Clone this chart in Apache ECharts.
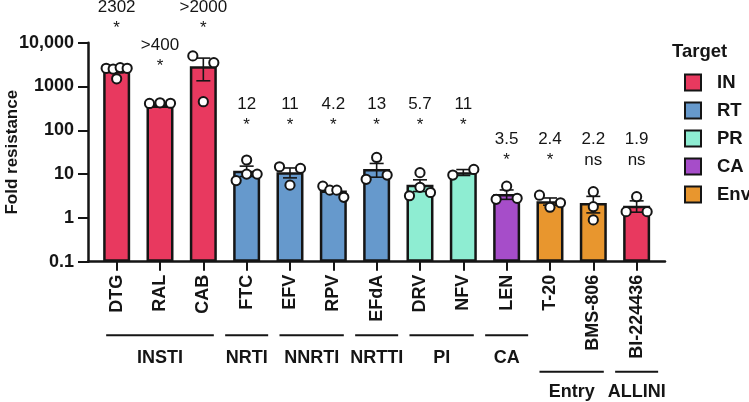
<!DOCTYPE html>
<html><head><meta charset="utf-8">
<script src="https://cdn.jsdelivr.net/npm/echarts@6/dist/echarts.min.js"></script>
<style>html,body{margin:0;padding:0;background:#fff}#c{width:749px;height:402px}</style>
</head><body><div id="c"></div>
<script>
// ---------- DATA ----------
const drugs = ['DTG','RAL','CAB','FTC','EFV','RPV','EFdA','DRV','NFV','LEN','T-20','BMS-806','BI-224436'];
const targets = ['IN','IN','IN','RT','RT','RT','RT','PR','PR','CA','Env','Env','IN'];
const targetNames = ['IN','RT','PR','CA','Env'];
const foldMean = [2302, 370, 2900, 12, 11, 4.2, 13, 5.7, 11, 3.5, 2.4, 2.2, 1.9];
const foldSem  = [250, 10, 1550, 3.2, 2.8, 0.45, 4.5, 1.7, 1.7, 0.85, 0.45, 0.9, 0.55];
const replicates = [
  [2600, 2500, 2700, 2600, 1500],
  [410, 425, 415],
  [5000, 3500, 450],
  [21, 7.1, 10, 10],
  [14.7, 13.5, 5.6],
  [5.3, 4.3, 4.3, 2.95],
  [24, 7.6, 9.5],
  [10.8, 3.2, 5.0, 3.8],
  [9.5, 12.8],
  [5.3, 2.66, 2.8],
  [3.3, 1.75, 2.22],
  [3.96, 1.8, 0.9],
  [3.05, 1.39, 1.39]
];
const valueLabels = ['2302','>400','>2000','12','11','4.2','13','5.7','11','3.5','2.4','2.2','1.9'];
const sigLabels   = ['*','*','*','*','*','*','*','*','*','*','*','ns','ns'];
const groupNames = ['INSTI','NRTI','NNRTI','NRTTI','PI','CA','Entry','ALLINI'];
const groupFirst = [0, 3, 4, 6, 7, 9, 10, 12];
const groupLast  = [2, 3, 5, 6, 8, 9, 11, 12];
const groupRow   = [0, 0, 0, 0, 0, 0, 1, 1];
const yTickLabels = ['0.1','1','10','100','1000','10,000'];

// ---------- LAYOUT / STYLE ----------
const FONT = '"Liberation Sans", Arial, Helvetica, sans-serif';
const INK = '#151515';
const colors = {IN:'#E8395F', RT:'#6699CC', PR:'#8EEDD2', CA:'#A64DC9', Env:'#E8962E'};
const annotLevel = [64000, 8500, 64000, 400, 400, 400, 400, 400, 400, 63, 63, 63, 63];
const SPREAD = 21;

function renderPoints(params, api) {
  const i = params.dataIndex;
  const vals = replicates[i];
  const cx = api.coord([i, vals[0]])[0];
  const pts = vals.map((v, k) => ({k, y: api.coord([i, v])[1]}));
  const sorted = pts.slice().sort((a, b) => a.y - b.y);
  const clusters = [];
  let cur = [sorted[0]];
  for (let j = 1; j < sorted.length; j++) {
    if (sorted[j].y - sorted[j-1].y < 8.5) cur.push(sorted[j]);
    else { clusters.push(cur); cur = [sorted[j]]; }
  }
  clusters.push(cur);
  const children = [];
  clusters.forEach(c => {
    c.sort((a, b) => a.k - b.k);
    const n = c.length;
    c.forEach((p, m) => {
      const dx = n === 1 ? 0 : -SPREAD / 2 + m * SPREAD / (n - 1);
      children.push({type: 'circle', shape: {cx: cx + dx, cy: p.y, r: 4.6},
        style: {fill: '#fff', stroke: INK, lineWidth: 2}});
    });
  });
  return {type: 'group', children};
}

function renderErr(params, api) {
  const i = params.dataIndex;
  const m = foldMean[i], s = foldSem[i];
  const top = api.coord([i, m + s]);
  const bot = api.coord([i, Math.max(m - s, 0.1)]);
  const x = top[0], hw = 7;
  const st = {stroke: INK, lineWidth: 1.6};
  return {type: 'group', children: [
    {type: 'line', shape: {x1: x, y1: top[1], x2: x, y2: bot[1]}, style: st},
    {type: 'line', shape: {x1: x - hw, y1: top[1], x2: x + hw, y2: top[1]}, style: st},
    {type: 'line', shape: {x1: x - hw, y1: bot[1], x2: x + hw, y2: bot[1]}, style: st}
  ]};
}

function renderAnnot(params, api) {
  const i = params.dataIndex;
  const p = api.coord([i, annotLevel[i]]);
  return {type: 'group', children: [
    {type: 'text', style: {text: valueLabels[i], x: p[0], y: p[1], align: 'center', verticalAlign: 'middle',
      font: '17px ' + FONT, fill: INK}},
    {type: 'text', style: {text: sigLabels[i], x: p[0], y: p[1] + 21, align: 'center', verticalAlign: 'middle',
      font: '17px ' + FONT, fill: INK}}
  ]};
}

function renderGroups(params, api) {
  const g = params.dataIndex;
  const a = api.coord([groupFirst[g], 0.1]);
  const b = api.coord([groupLast[g], 0.1]);
  const ext = groupFirst[g] === groupLast[g] ? 21.5 : 10.5;
  const row = groupRow[g];
  const lineY = a[1] + (row === 0 ? 73.5 : 110);
  const textY = a[1] + (row === 0 ? 96.5 : 130);
  return {type: 'group', children: [
    {type: 'line', shape: {x1: a[0] - ext, y1: lineY, x2: b[0] + ext, y2: lineY},
      style: {stroke: INK, lineWidth: 2}},
    {type: 'text', style: {text: groupNames[g], x: (a[0] + b[0]) / 2, y: textY, align: 'center',
      verticalAlign: 'middle', font: 'bold 18px ' + FONT, fill: INK}}
  ]};
}

const chart = echarts.init(document.getElementById('c'), null, {renderer: 'canvas'});
const barSeries = targetNames.map(t => ({
  type: 'bar', name: t, xAxisIndex: 1, yAxisIndex: 1, barWidth: 27, barGap: '-100%',
  itemStyle: {color: colors[t], borderColor: INK, borderWidth: 2.5},
  data: foldMean.map((v, i) => targets[i] === t ? v : '-'),
  z: 2, silent: true
}));

chart.setOption({
  animation: false,
  textStyle: {fontFamily: FONT},
  title: {text: 'Target', left: 672, top: 42, padding: 0,
    textStyle: {fontFamily: FONT, fontSize: 18.5, fontWeight: 'bold', color: INK}},
  legend: {orient: 'vertical', left: 684, top: 73, padding: 0, itemWidth: 16, itemHeight: 16, itemGap: 9,
    icon: 'rect', data: targetNames, selectedMode: false,
    itemStyle: {borderColor: INK, borderWidth: 2},
    textStyle: {fontFamily: FONT, fontSize: 18.5, fontWeight: 'bold', color: INK,
      padding: [0, 0, 0, 11]}},
  grid: [
    {left: 88, right: 84, top: 42.7, bottom: 140.3, outerBoundsMode: 'none', containLabel: false},
    {left: 95, right: 90.7, top: 42.7, bottom: 140.3, outerBoundsMode: 'none', containLabel: false}
  ],
  xAxis: [
    {gridIndex: 0, type: 'value', min: 0, max: 1,
      axisLine: {show: true, onZero: false, lineStyle: {color: INK, width: 2.5}},
      axisTick: {show: false}, axisLabel: {show: false}, splitLine: {show: false}},
    {gridIndex: 1, type: 'category', data: drugs,
      axisLine: {show: false},
      axisTick: {show: true, alignWithLabel: true, length: 9, lineStyle: {color: INK, width: 2}},
      axisLabel: {rotate: 90, interval: 0, margin: 13, fontFamily: FONT, fontSize: 18, fontWeight: 'bold', color: INK}}
  ],
  yAxis: [
    {gridIndex: 0, type: 'log', logBase: 10, min: 0.1, max: 10000,
      axisLine: {show: true, lineStyle: {color: INK, width: 2.5}},
      axisTick: {show: true, length: 10, lineStyle: {color: INK, width: 2}},
      axisLabel: {margin: 14, fontFamily: FONT, fontSize: 18, fontWeight: 'bold', color: INK,
        formatter: v => yTickLabels[Math.round(Math.log10(v)) + 1]},
      splitLine: {show: false},
      name: 'Fold resistance', nameLocation: 'middle', nameGap: 67, nameMoveOverlap: false,
      nameTextStyle: {fontFamily: FONT, fontSize: 17, fontWeight: 'bold', color: INK}},
    {gridIndex: 1, type: 'log', logBase: 10, min: 0.1, max: 10000, startValue: 0.1, show: false}
  ],
  series: barSeries.concat([
    {type: 'custom', name: 'sem', xAxisIndex: 1, yAxisIndex: 1, z: 3, silent: true,
      data: foldMean.map((m, i) => [i, m]), renderItem: renderErr},
    {type: 'custom', name: 'points', xAxisIndex: 1, yAxisIndex: 1, z: 4, silent: true,
      data: replicates.map((r, i) => [i, r[0]]), renderItem: renderPoints},
    {type: 'custom', name: 'annot', xAxisIndex: 1, yAxisIndex: 1, z: 5, silent: true, clip: false,
      data: annotLevel.map((l, i) => [i, l]), renderItem: renderAnnot},
    {type: 'custom', name: 'groups', xAxisIndex: 1, yAxisIndex: 1, z: 5, silent: true, clip: false,
      data: groupNames.map((n, g) => [groupFirst[g], 0.1]), renderItem: renderGroups}
  ])
});
</script>
</body></html>
